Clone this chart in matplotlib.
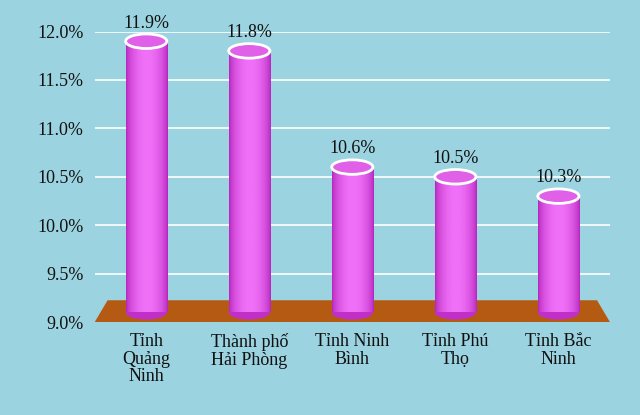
import matplotlib
matplotlib.use("Agg")
import matplotlib.pyplot as plt
import numpy as np
from matplotlib.patches import Ellipse, Polygon, Rectangle

categories = ["Tỉnh\nQuảng\nNinh", "Thành phố\nHải Phòng", "Tỉnh Ninh\nBình", "Tỉnh Phú\nThọ", "Tỉnh Bắc\nNinh"]
values = [11.9, 11.8, 10.6, 10.5, 10.3]
labels = ["11.9%", "11.8%", "10.6%", "10.5%", "10.3%"]
yticks = [9.0, 9.5, 10.0, 10.5, 11.0, 11.5, 12.0]

plt.rcParams['font.family'] = ['Liberation Serif', 'DejaVu Serif']
bg = "#9cd3e0"
fig = plt.figure(figsize=(6.4, 4.15), dpi=100, facecolor=bg)
ax = fig.add_axes([0.148, 0.224, 0.805, 0.70])
ax.set_facecolor(bg)
for s in ax.spines.values():
    s.set_visible(False)
ax.set_yticks(yticks)
ax.set_yticklabels([f"{t:.1f}%" for t in yticks], fontsize=13, color="#111111")
ax.tick_params(length=0, pad=8)
for t in yticks[1:]:
    ax.axhline(t, color="white", lw=1.2, zorder=0)
ax.set_xticks(range(len(categories)))
ax.set_xticklabels(categories, fontsize=13, color="#111111", linespacing=1.05)

floor = Polygon([(0, 0), (1, 0), (0.975, 0.075), (0.025, 0.075)], closed=True,
                transform=ax.transAxes, facecolor="#b45a12", edgecolor="none", zorder=1)
ax.add_patch(floor)

w = 0.4
base = 9.1
eh = 0.15
grad = np.linspace(0, 1, 256)
grad = np.sin(grad * np.pi) ** 0.6
cmap = matplotlib.colors.LinearSegmentedColormap.from_list("c", ["#b020b8", "#f070f8"])
for i, v in enumerate(values):
    ax.add_patch(Ellipse((i, base), w, eh, facecolor="#c030c8", edgecolor="none", zorder=2))
    rect = Rectangle((i - w / 2, base), w, v - base, facecolor="none", edgecolor="none", zorder=2)
    ax.add_patch(rect)
    im = ax.imshow(np.tile(grad, (2, 1)), cmap=cmap, aspect="auto",
                   extent=(i - w / 2, i + w / 2, base, v), zorder=2)
    im.set_clip_path(rect)
    ax.add_patch(Ellipse((i, v), w, eh, facecolor="#e060e8", edgecolor="white", lw=2, zorder=3))
    ax.text(i, v + 0.1, labels[i], ha="center", va="bottom", fontsize=13, color="#111111", zorder=4)

ax.set_xlim(-0.5, 4.5)
ax.set_ylim(9.0, 12.0)
fig.savefig("out.png", dpi=100, facecolor=bg)
